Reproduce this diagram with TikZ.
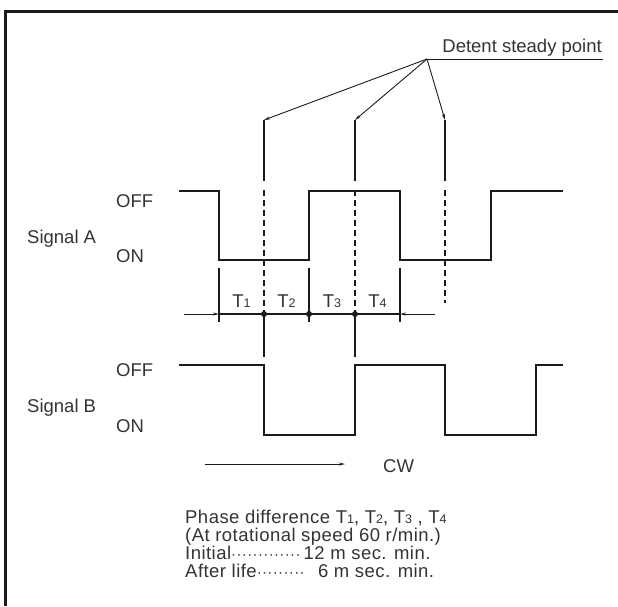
\documentclass[tikz,border=0pt]{standalone}
\usepackage{fontspec}
\setmainfont{Liberation Sans}
\newfontfamily\notefont[LetterSpace=2.5]{Liberation Sans}
\usetikzlibrary{arrows.meta}
\definecolor{ink}{HTML}{1A1A1A}
\definecolor{txt}{HTML}{333333}
\newcommand{\sbs}[1]{{\fontsize{12.5}{12.5}\selectfont #1}}
\begin{document}
\begin{tikzpicture}[x=1pt,y=-1pt,
  sig/.style={line width=1.6pt,color=ink},
  thin/.style={line width=0.9pt,color=ink},
  dsh/.style={line width=1.4pt,color=ink,dash pattern=on 6pt off 4pt},
  arr/.style={thin,-{Stealth[length=6pt,width=3pt]}},
  lbl/.style={text=txt,font=\fontsize{18.5}{18.5}\selectfont,inner sep=0pt},
  dot/.style={circle,fill=ink,inner sep=0pt,minimum size=6pt}]
\useasboundingbox (0,0) rectangle (618,606);
% frame
\draw[line width=2.5pt,color=ink] (5.5,606) -- (5.5,11.5) -- (618,11.5);
% detent label
\node[lbl,anchor=base east] (det) at (602,52) {Detent steady point};
\coordinate (dp) at (427,59);
\coordinate (de) at (603,59);
\draw[thin] (dp) -- (de);
\coordinate (a1) at (264,120);
\coordinate (a2) at (355,120);
\coordinate (a3) at (445,120);
\draw[arr] (dp) -- (a1);
\draw[arr] (dp) -- (a2);
\draw[arr] (dp) -- (a3);
% verticals
\foreach \x in {264,355,445} \draw[thin,line width=1.1pt] (\x,120) -- (\x,181);
\draw[dsh] (264,190) -- (264,312);
\draw[dsh] (355,190) -- (355,312);
\draw[dsh] (445,190) -- (445,303);
\draw[line width=1.4pt,color=ink] (264,314) -- (264,357);
\draw[line width=1.4pt,color=ink] (355,314) -- (355,357);
% signal A
\draw[sig] (179,191) -- (219,191) -- (219,260) -- (309,260) -- (309,191) -- (400,191) -- (400,260) -- (491,260) -- (491,191) -- (563,191);
% signal B
\draw[sig] (179,365) -- (264,365) -- (264,435) -- (355,435) -- (355,365) -- (445,365) -- (445,435) -- (536,435) -- (536,365) -- (563,365);
% ticks and dimension line
\foreach \x in {219,309,400} \draw[line width=1.3pt,color=ink] (\x,268) -- (\x,322);
\coordinate (dl) at (219,314);
\coordinate (dr) at (400,314);
\coordinate (al) at (184,314);
\coordinate (ar) at (435,314);
\draw[line width=1.3pt,color=ink] (dl) -- (dr);
\draw[arr] (al) -- (dl);
\draw[arr] (ar) -- (dr);
\node[dot] (p1) at (264,314) {};
\node[dot] (p2) at (309,314) {};
\node[dot] (p3) at (355,314) {};
\node[lbl,anchor=base] (t1) at (241.5,307) {T\sbs{1}};
\node[lbl,anchor=base] (t2) at (286.5,307) {T\sbs{2}};
\node[lbl,anchor=base] (t3) at (332,307) {T\sbs{3}};
\node[lbl,anchor=base] (t4) at (377.5,307) {T\sbs{4}};
% left labels
\node[lbl,anchor=west] (offa) at (116,201) {OFF};
\node[lbl,anchor=west] (siga) at (27,239) {Signal A};
\node[lbl,anchor=west] (ona) at (116,256) {ON};
\node[lbl,anchor=west] (offb) at (116,370) {OFF};
\node[lbl,anchor=west] (sigb) at (27,408) {Signal B};
\node[lbl,anchor=west] (onb) at (116,426) {ON};
% CW
\coordinate (cw0) at (205,464);
\coordinate (cw1) at (345,464);
\draw[arr] (cw0) -- (cw1);
\node[lbl,anchor=west] (cw) at (383,466) {CW};
% notes
\node[lbl,anchor=north west,align=left,font=\notefont\fontsize{18.5}{17.8}\selectfont] (notes) at (185,510) {%
Phase difference T\sbs{1}, T\sbs{2}, T\sbs{3} , T\sbs{4}\\
(At rotational speed 60 r/min.)\\
Initial{\fontsize{15}{15}\selectfont·············}\,12 m sec. min.\\
After life{\fontsize{15}{15}\selectfont·········}\,\phantom{1}6 m sec. min.};
\end{tikzpicture}
\end{document}
